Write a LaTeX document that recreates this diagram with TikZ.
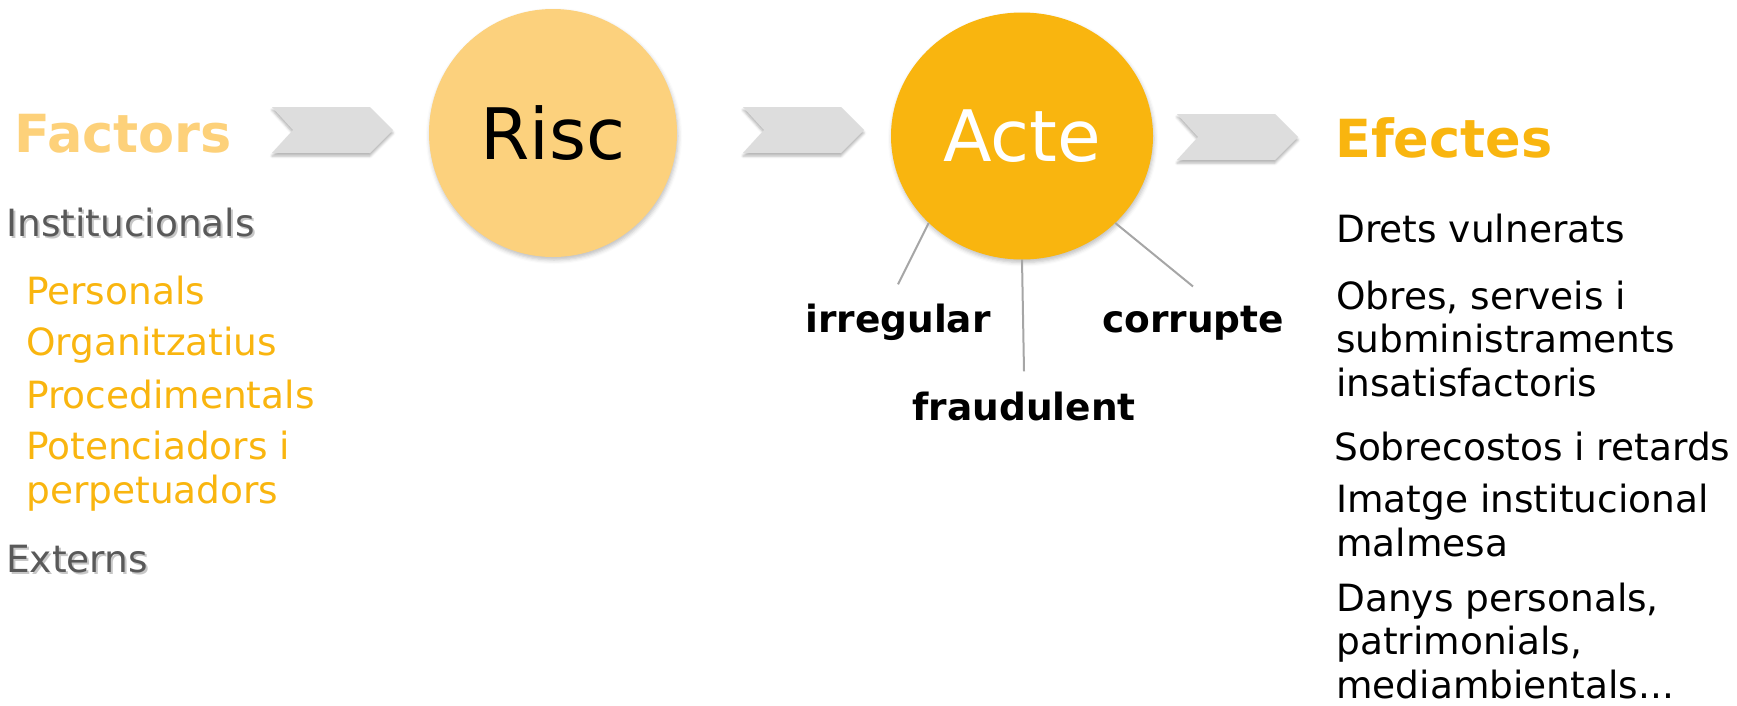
\documentclass[tikz,border=0pt]{standalone}
\usepackage{fontspec}
\setmainfont{DejaVu Sans}
\usetikzlibrary{shapes.geometric,shadows.blur}

\definecolor{riscfill}{HTML}{FCD17D}
\definecolor{actefill}{HTML}{F9B50F}
\definecolor{factcolor}{HTML}{FDD17A}
\definecolor{groupgray}{HTML}{595959}
\definecolor{chevgray}{HTML}{DDDDDD}
\definecolor{spokegray}{HTML}{A6A6A6}

\newcommand{\bodyfont}{\fontsize{37.5}{43.5}\selectfont}
\newcommand{\headfont}{\fontsize{52.5}{60}\selectfont\bfseries}
\newcommand{\circfont}{\fontsize{71}{80}\selectfont}
\newcommand{\shadowed}[1]{\makebox[0pt][l]{\hspace{2pt}\raisebox{-2.5pt}{\color{black!22}#1}}#1}

\tikzset{
  txt/.style={inner sep=0, anchor=base west, font=\bodyfont, align=left},
  head/.style={inner sep=0, anchor=base west, font=\headfont},
  kind/.style={inner sep=0, anchor=base, font=\bodyfont\bfseries},
  bubble/.style={inner sep=0, font=\circfont,
    blur shadow={shadow xshift=1pt, shadow yshift=-3pt, shadow blur radius=4pt, shadow opacity=25}},
  chevron/.style={fill=chevgray,
    blur shadow={shadow xshift=0pt, shadow yshift=-3pt, shadow blur radius=2.5pt, shadow opacity=30}},
  spoke/.style={draw=spokegray, line width=2pt}
}

\begin{document}
\begin{tikzpicture}[x=1pt,y=-1pt]
\useasboundingbox (0,0) rectangle (1737,705);

% chevrons
\foreach \x/\y in {272/107, 743/107, 1177/114}{
  \path[chevron] (\x,\y) -- ++(98,0) -- ++(23,23) -- ++(-23,23) -- ++(-98,0) -- ++(21,-23) -- cycle;
}

% circles
\node[bubble, circle, minimum size=248pt, fill=riscfill] (risc) at (553,133) {Risc};
\node[bubble, ellipse, minimum width=262pt, minimum height=247pt, fill=actefill,
  text=white] (acte) at (1022,136) {Acte};

% factors (base of a multi-line node = its last line)
\node[head, text=factcolor] (factors) at (14,152) {Factors};
\node[txt, text=groupgray] (inst) at (6,236) {\shadowed{Institucionals}};
\node[txt, text=actefill] (pers) at (26,304) {Personals};
\node[txt, text=actefill] (org) at (26,355) {Organitzatius};
\node[txt, text=actefill] (proc) at (26,408) {Procedimentals};
\node[txt, text=actefill] (pot) at (26,503) {Potenciadors i\\perpetuadors};
\node[txt, text=groupgray] (ext) at (6,572) {\shadowed{Externs}};

% kinds of act
\node[kind] (irr) at (898,332) {irregular};
\node[kind] (corr) at (1193,332) {corrupte};
\node[kind] (frau) at (1024,420) {fraudulent};
\draw[spoke] (acte.223) -- ([yshift=19pt]irr.north);
\draw[spoke] (acte.270) -- ([yshift=20pt]frau.north);
\draw[spoke] (acte.317) -- ([yshift=19pt]corr.north);

% effects
\node[head, text=actefill] (efectes) at (1335,157) {Efectes};
\node[txt] (drets) at (1336,242) {Drets vulnerats};
\node[txt] (obres) at (1336,396) {Obres, serveis i\\subministraments\\insatisfactoris};
\node[txt] (sobre) at (1334,460) {Sobrecostos i retards};
\node[txt] (imatge) at (1336,556) {Imatge institucional\\malmesa};
\node[txt] (danys) at (1336,698) {Danys personals,\\patrimonials,\\mediambientals...};
\end{tikzpicture}
\end{document}
